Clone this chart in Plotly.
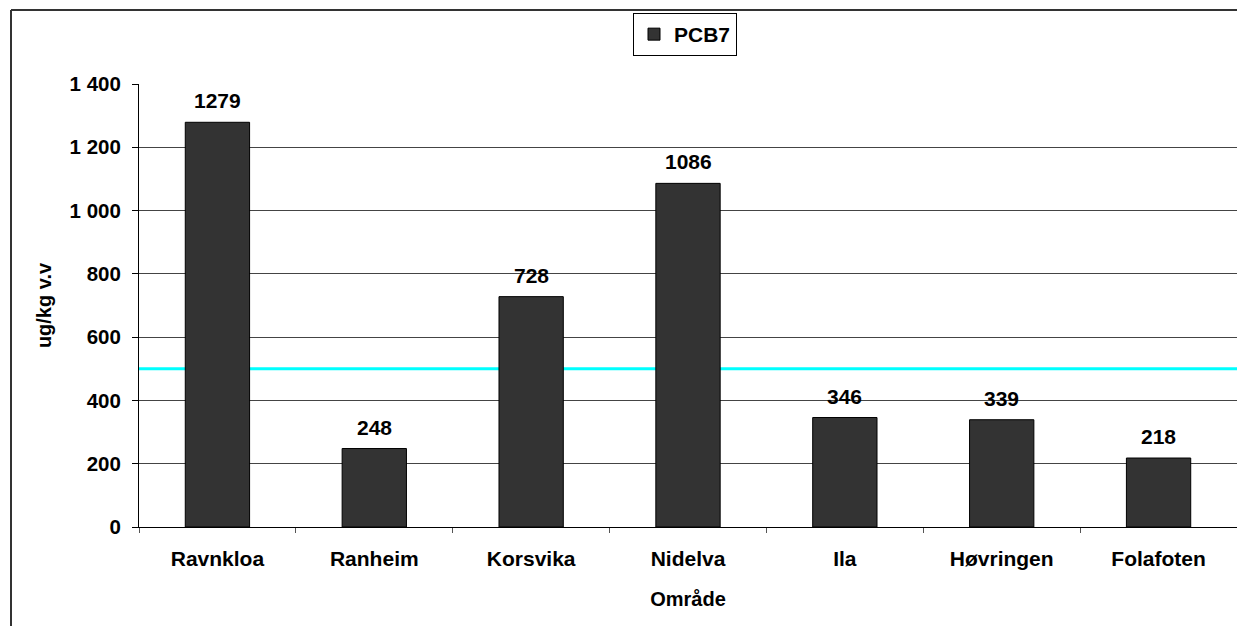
import plotly.graph_objects as go

categories = ["Ravnkloa", "Ranheim", "Korsvika", "Nidelva", "Ila", "Høvringen", "Folafoten"]
pcb7_values = [1279, 248, 728, 1086, 346, 339, 218]
series_name = "PCB7"
threshold = 500
y_tick_values = [0, 200, 400, 600, 800, 1000, 1200, 1400]
y_tick_labels = ["0", "200", "400", "600", "800", "1 000", "1 200", "1 400"]
x_title = "Område"
y_title = "ug/kg v.v"

FONT = "Liberation Sans, Arial, sans-serif"

fig = go.Figure()
fig.add_trace(go.Bar(
    x=categories, y=pcb7_values, name=series_name,
    marker=dict(color="#333333", line=dict(color="black", width=1)),
    width=0.41, showlegend=True,
))

for c, v in zip(categories, pcb7_values):
    fig.add_annotation(x=c, y=v, text=str(v), showarrow=False,
                       yanchor="bottom", yshift=8,
                       font=dict(family=FONT, size=21, color="black", weight="bold"))

fig.add_shape(type="line", xref="paper", yref="y", x0=0, x1=1, y0=threshold, y1=threshold,
              line=dict(color="#00FFFF", width=3), layer="below")

# outer chart border (left and top visible)
W, H = 1237, 626
ml, mr, mt, mb = 139, 0, 84, 99
pw, ph = W - ml - mr, H - mt - mb
bx = (11 - ml) / pw
by = 1 + (mt - 10) / ph
fig.add_shape(type="line", xref="paper", yref="paper", x0=bx, x1=bx, y0=-1, y1=by,
              line=dict(color="#333333", width=2))
fig.add_shape(type="line", xref="paper", yref="paper", x0=bx, x1=1.5, y0=by, y1=by,
              line=dict(color="#333333", width=2))

fig.update_layout(
    width=W, height=H,
    margin=dict(l=ml, r=mr, t=mt, b=mb, pad=0),
    paper_bgcolor="white", plot_bgcolor="white",
    font=dict(family=FONT, size=21, color="black", weight="bold"),
    bargap=0.59,
    legend=dict(x=(633 - ml) / pw, y=1 + (mt - 13) / ph, xanchor="left", yanchor="top",
                bordercolor="black", borderwidth=1, bgcolor="white",
                font=dict(family=FONT, size=21, color="black", weight="bold"),
                itemwidth=30),
    xaxis=dict(
        showline=True, linecolor="black", linewidth=1,
        ticks="outside", tickson="boundaries", ticklen=5, tickcolor="#555",
        tickfont=dict(family=FONT, size=21, color="black", weight="bold"),
        ticklabelstandoff=13,
        title=dict(text=x_title, standoff=22,
                   font=dict(family=FONT, size=20, color="black", weight="bold")),
        showgrid=False, zeroline=False,
    ),
    yaxis=dict(
        range=[0, 1400], tickvals=y_tick_values, ticktext=y_tick_labels,
        showline=True, linecolor="black", linewidth=1,
        ticks="outside", ticklen=6, tickcolor="black",
        tickfont=dict(family=FONT, size=20.5, color="black", weight="bold"),
        ticklabelstandoff=7,
        showgrid=True, gridcolor="#444", gridwidth=1, zeroline=False,
        title=dict(text=y_title, standoff=12,
                   font=dict(family=FONT, size=20, color="black", weight="bold")),
    ),
)

fig.write_html("out.html", config={"displayModeBar": False},
               post_script="document.body.style.margin='0';document.documentElement.style.overflow='hidden';document.body.style.overflow='hidden';")
